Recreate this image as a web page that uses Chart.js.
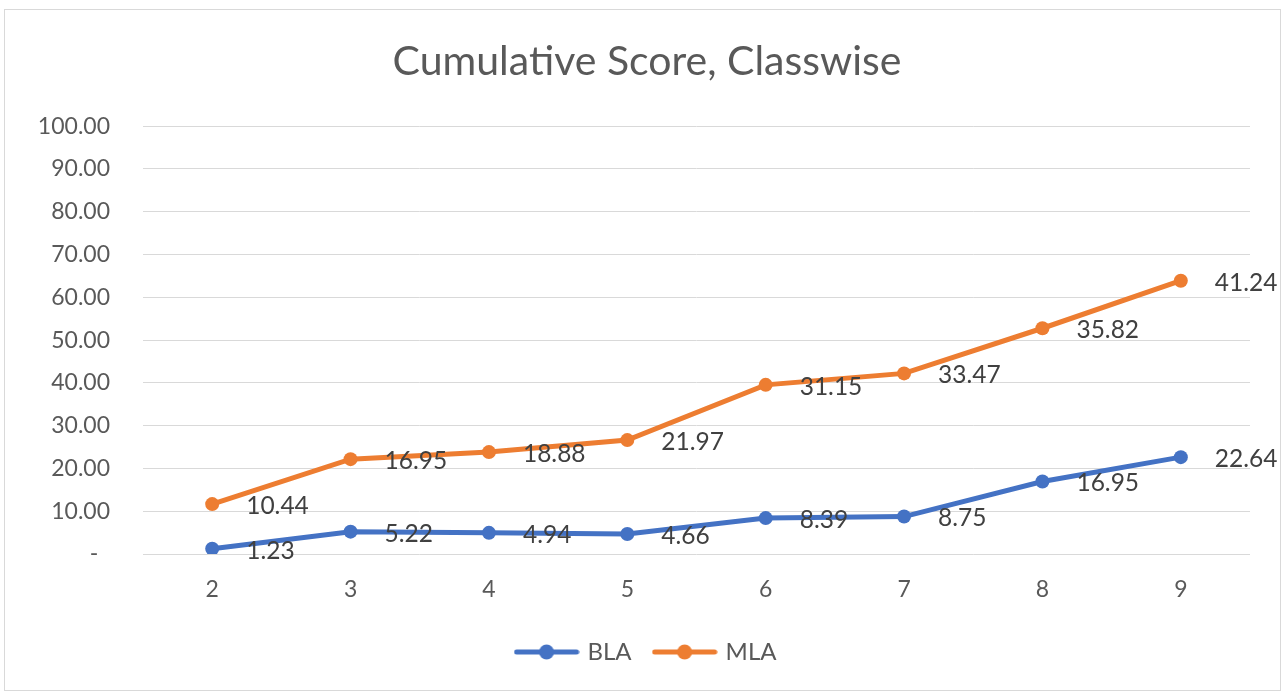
<!DOCTYPE html>
<html><head><meta charset="utf-8">
<script src="https://cdn.jsdelivr.net/npm/chart.js"></script>
<style>
html,body{margin:0;padding:0;background:#fff;overflow:hidden;}
#frame{position:absolute;left:4px;top:9px;width:1275px;height:680px;border:1px solid #d9d9d9;}
#wrap{position:absolute;left:0;top:0;width:1284px;height:693px;}
</style></head><body>
<div id="frame"></div>
<div id="wrap"><canvas id="c" width="1284" height="693"></canvas></div>
<script>
const categories = ['2','3','4','5','6','7','8','9'];
const blaValues = [1.23, 5.22, 4.94, 4.66, 8.39, 8.75, 16.95, 22.64];
const mlaValues = [10.44, 16.95, 18.88, 21.97, 31.15, 33.47, 35.82, 41.24];
const seriesNames = ['BLA', 'MLA'];
const chartTitle = 'Cumulative Score, Classwise';
const yMin = 0, yMax = 100, yStep = 10;

const BLUE = '#4472C4', ORANGE = '#ED7D31';
const FONT = 'Lato';

function markerImage(color){
  const c = document.createElement('canvas'); c.width = 66; c.height = 18;
  const g = c.getContext('2d');
  g.strokeStyle = color; g.lineWidth = 5; g.lineCap = 'round';
  g.beginPath(); g.moveTo(3, 9); g.lineTo(63, 9); g.stroke();
  g.fillStyle = color; g.beginPath(); g.arc(33, 9, 7.5, 0, Math.PI * 2); g.fill();
  return c;
}
const markers = [markerImage(BLUE), markerImage(ORANGE)];

const valueLabels = {
  id: 'valueLabels',
  afterDatasetsDraw(chart){
    const ctx = chart.ctx; ctx.save();
    ctx.font = '24.5px ' + FONT; ctx.fillStyle = '#404040';
    ctx.textAlign = 'left'; ctx.textBaseline = 'middle';
    chart.data.datasets.forEach((ds, i) => {
      const meta = chart.getDatasetMeta(i);
      meta.data.forEach((pt, j) => {
        ctx.fillText(ds.data[j].toFixed(2), pt.x + 34, pt.y + 2);
      });
    });
    ctx.restore();
  }
};

// shift title and legend blocks so they are centred like the reference
const centreShift = {
  id: 'centreShift',
  afterLayout(chart){
    if (chart.titleBlock) chart.titleBlock.left = 44;
    if (chart.legend) chart.legend.left = 44;
  }
};

new Chart(document.getElementById('c'), {
  type: 'line',
  data: {
    labels: categories,
    datasets: [
      { label: seriesNames[0], data: blaValues, borderColor: BLUE, backgroundColor: BLUE,
        borderWidth: 5, pointRadius: 7, pointHoverRadius: 7, pointBorderWidth: 0, fill: false, tension: 0 },
      { label: seriesNames[1], data: mlaValues, borderColor: ORANGE, backgroundColor: ORANGE,
        borderWidth: 5, pointRadius: 7, pointHoverRadius: 7, pointBorderWidth: 0, fill: false, tension: 0 }
    ]
  },
  options: {
    responsive: false, animation: false, devicePixelRatio: 1,
    layout: { padding: { top: 0, left: 0, right: 34, bottom: 19 } },
    plugins: {
      tooltip: { enabled: false },
      title: { display: true, text: chartTitle, color: '#595959',
        font: { family: FONT, size: 41, weight: 'normal', lineHeight: 1.2 },
        padding: { top: 37, bottom: 40 } },
      legend: { position: 'bottom',
        labels: { usePointStyle: true, pointStyleWidth: 58, color: '#595959', padding: 24,
          font: { family: FONT, size: 24 },
          generateLabels: (chart) => Chart.defaults.plugins.legend.labels.generateLabels(chart)
            .map((l, i) => Object.assign(l, { pointStyle: markers[i] })) } }
    },
    scales: {
      x: { offset: true, grid: { display: false, drawTicks: false }, border: { display: false },
        ticks: { color: '#595959', padding: 22, font: { family: FONT, size: 23 }, maxRotation: 0 },
        afterFit: (s) => { s.height = 62; } },
      y: { stacked: true, min: yMin, max: yMax,
        grid: { color: '#d9d9d9', lineWidth: 1, drawTicks: false }, border: { display: false },
        ticks: { stepSize: yStep, color: '#595959', padding: 33, font: { family: FONT, size: 23 },
          callback: (v) => v === 0 ? '-  ' : v.toFixed(2) },
        afterFit: (s) => { s.width = 143; } }
    }
  },
  plugins: [valueLabels, centreShift]
});
</script>
</body></html>
